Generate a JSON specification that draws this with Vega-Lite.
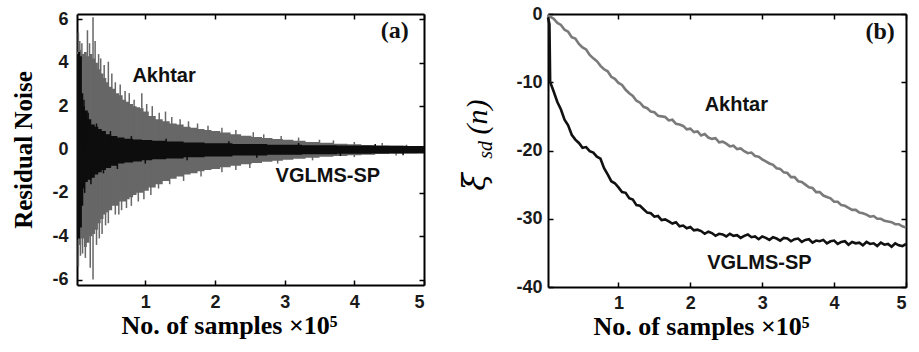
{
  "$schema": "https://vega.github.io/schema/vega-lite/v6.json",
  "background": "white",
  "padding": {"left": 11, "top": 5, "right": 5, "bottom": 5},
  "bounds": "flush",
  "spacing": 124,
  "config": {
    "view": {"stroke": null},
    "axis": {"grid": false, "domain": true, "domainColor": "#000", "domainWidth": 2, "tickColor": "#000", "tickSize": -5, "tickWidth": 1.5, "zindex": 1,
      "labelFont": "Liberation Sans", "labelFontWeight": "bold", "labelFontSize": 18, "labelColor": "#1a1a1a",
      "labelExpr": "datum.value < 0 ? '-' + abs(datum.value) : '' + datum.value",
      "titleFont": "Liberation Serif", "titleFontWeight": "bold", "titleFontSize": 26, "titleColor": "#000"}
  },
  "datasets": {
    "noise": [
      {"s":"Akhtar","x":0.02,"hi":4.5,"lo":-4.2},{"s":"Akhtar","x":0.06,"hi":4.6,"lo":-4.4},{"s":"Akhtar","x":0.10,"hi":4.4,"lo":-4.1},{"s":"Akhtar","x":0.14,"hi":4.5,"lo":-4.5},{"s":"Akhtar","x":0.18,"hi":4.3,"lo":-4.3},{"s":"Akhtar","x":0.22,"hi":4.4,"lo":-4.0},{"s":"Akhtar","x":0.26,"hi":4.2,"lo":-3.9},{"s":"Akhtar","x":0.30,"hi":4.0,"lo":-3.7},{"s":"Akhtar","x":0.34,"hi":3.7,"lo":-3.4},{"s":"Akhtar","x":0.38,"hi":3.5,"lo":-3.2},{"s":"Akhtar","x":0.42,"hi":3.3,"lo":-3.0},{"s":"Akhtar","x":0.46,"hi":3.1,"lo":-2.9},{"s":"Akhtar","x":0.50,"hi":2.9,"lo":-2.8},{"s":"Akhtar","x":0.55,"hi":2.8,"lo":-2.6},{"s":"Akhtar","x":0.60,"hi":2.6,"lo":-2.6},{"s":"Akhtar","x":0.65,"hi":2.5,"lo":-2.4},{"s":"Akhtar","x":0.70,"hi":2.3,"lo":-2.4},{"s":"Akhtar","x":0.75,"hi":2.2,"lo":-2.3},{"s":"Akhtar","x":0.80,"hi":2.1,"lo":-2.2},{"s":"Akhtar","x":0.85,"hi":2.0,"lo":-2.1},{"s":"Akhtar","x":0.90,"hi":1.95,"lo":-2.0},{"s":"Akhtar","x":0.95,"hi":1.9,"lo":-2.0},{"s":"Akhtar","x":1.00,"hi":1.75,"lo":-1.9},{"s":"Akhtar","x":1.10,"hi":1.55,"lo":-1.75},{"s":"Akhtar","x":1.20,"hi":1.4,"lo":-1.6},{"s":"Akhtar","x":1.30,"hi":1.3,"lo":-1.45},{"s":"Akhtar","x":1.40,"hi":1.2,"lo":-1.35},{"s":"Akhtar","x":1.50,"hi":1.15,"lo":-1.25},{"s":"Akhtar","x":1.60,"hi":1.05,"lo":-1.15},{"s":"Akhtar","x":1.70,"hi":1.0,"lo":-1.1},{"s":"Akhtar","x":1.80,"hi":0.95,"lo":-1.0},{"s":"Akhtar","x":1.90,"hi":0.9,"lo":-0.95},{"s":"Akhtar","x":2.00,"hi":0.85,"lo":-0.9},{"s":"Akhtar","x":2.15,"hi":0.78,"lo":-0.82},{"s":"Akhtar","x":2.30,"hi":0.7,"lo":-0.75},{"s":"Akhtar","x":2.45,"hi":0.64,"lo":-0.68},{"s":"Akhtar","x":2.60,"hi":0.58,"lo":-0.62},{"s":"Akhtar","x":2.75,"hi":0.53,"lo":-0.57},{"s":"Akhtar","x":2.90,"hi":0.48,"lo":-0.52},{"s":"Akhtar","x":3.05,"hi":0.45,"lo":-0.47},{"s":"Akhtar","x":3.20,"hi":0.4,"lo":-0.43},{"s":"Akhtar","x":3.40,"hi":0.35,"lo":-0.38},{"s":"Akhtar","x":3.60,"hi":0.31,"lo":-0.34},{"s":"Akhtar","x":3.80,"hi":0.27,"lo":-0.3},{"s":"Akhtar","x":4.00,"hi":0.24,"lo":-0.27},{"s":"Akhtar","x":4.20,"hi":0.21,"lo":-0.24},{"s":"Akhtar","x":4.40,"hi":0.19,"lo":-0.21},{"s":"Akhtar","x":4.60,"hi":0.17,"lo":-0.19},{"s":"Akhtar","x":4.80,"hi":0.16,"lo":-0.17},{"s":"Akhtar","x":5.00,"hi":0.15,"lo":-0.16},
      {"s":"VGLMS-SP","x":0.02,"hi":4.4,"lo":-4.2},{"s":"VGLMS-SP","x":0.05,"hi":4.5,"lo":-4.1},{"s":"VGLMS-SP","x":0.08,"hi":4.3,"lo":-3.6},{"s":"VGLMS-SP","x":0.10,"hi":2.6,"lo":-2.6},{"s":"VGLMS-SP","x":0.12,"hi":2.0,"lo":-1.8},{"s":"VGLMS-SP","x":0.15,"hi":1.8,"lo":-1.5},{"s":"VGLMS-SP","x":0.20,"hi":1.4,"lo":-1.4},{"s":"VGLMS-SP","x":0.25,"hi":1.15,"lo":-1.3},{"s":"VGLMS-SP","x":0.30,"hi":1.05,"lo":-1.15},{"s":"VGLMS-SP","x":0.35,"hi":0.95,"lo":-1.05},{"s":"VGLMS-SP","x":0.40,"hi":0.85,"lo":-0.95},{"s":"VGLMS-SP","x":0.47,"hi":0.7,"lo":-0.85},{"s":"VGLMS-SP","x":0.55,"hi":0.62,"lo":-0.75},{"s":"VGLMS-SP","x":0.65,"hi":0.55,"lo":-0.65},{"s":"VGLMS-SP","x":0.75,"hi":0.5,"lo":-0.6},{"s":"VGLMS-SP","x":0.90,"hi":0.46,"lo":-0.55},{"s":"VGLMS-SP","x":1.00,"hi":0.44,"lo":-0.5},{"s":"VGLMS-SP","x":1.20,"hi":0.4,"lo":-0.45},{"s":"VGLMS-SP","x":1.40,"hi":0.37,"lo":-0.42},{"s":"VGLMS-SP","x":1.70,"hi":0.32,"lo":-0.36},{"s":"VGLMS-SP","x":2.00,"hi":0.29,"lo":-0.32},{"s":"VGLMS-SP","x":2.50,"hi":0.25,"lo":-0.28},{"s":"VGLMS-SP","x":3.00,"hi":0.22,"lo":-0.24},{"s":"VGLMS-SP","x":3.50,"hi":0.2,"lo":-0.22},{"s":"VGLMS-SP","x":4.00,"hi":0.18,"lo":-0.2},{"s":"VGLMS-SP","x":4.50,"hi":0.17,"lo":-0.19},{"s":"VGLMS-SP","x":5.00,"hi":0.16,"lo":-0.18}
    ],
    "spikes": [
      {"s":"Akhtar","x":0.04,"y":5.4},{"s":"Akhtar","x":0.06,"y":5.0},{"s":"Akhtar","x":0.09,"y":4.9},{"s":"Akhtar","x":0.17,"y":5.5},{"s":"Akhtar","x":0.2,"y":4.9},{"s":"Akhtar","x":0.25,"y":6.1},{"s":"Akhtar","x":0.28,"y":5.0},{"s":"Akhtar","x":0.33,"y":4.4},{"s":"Akhtar","x":0.36,"y":4.2},{"s":"Akhtar","x":0.41,"y":3.9},{"s":"Akhtar","x":0.47,"y":4.05},{"s":"Akhtar","x":0.52,"y":3.5},{"s":"Akhtar","x":0.57,"y":3.1},{"s":"Akhtar","x":0.64,"y":3.0},{"s":"Akhtar","x":0.71,"y":2.7},{"s":"Akhtar","x":0.77,"y":2.6},{"s":"Akhtar","x":0.84,"y":2.3},{"s":"Akhtar","x":0.95,"y":2.6},{"s":"Akhtar","x":1.02,"y":2.1},{"s":"Akhtar","x":1.1,"y":2.0},{"s":"Akhtar","x":1.2,"y":1.7},{"s":"Akhtar","x":1.29,"y":1.75},{"s":"Akhtar","x":1.38,"y":1.5},{"s":"Akhtar","x":1.5,"y":1.4},{"s":"Akhtar","x":1.62,"y":1.3},{"s":"Akhtar","x":1.75,"y":1.2},{"s":"Akhtar","x":1.9,"y":1.1},{"s":"Akhtar","x":2.1,"y":1.0},{"s":"Akhtar","x":2.3,"y":0.9},{"s":"Akhtar","x":2.55,"y":0.8},{"s":"Akhtar","x":2.7,"y":0.7},{"s":"Akhtar","x":2.95,"y":0.62},{"s":"Akhtar","x":3.2,"y":0.55},{"s":"Akhtar","x":3.5,"y":0.45},{"s":"Akhtar","x":3.7,"y":0.42},{"s":"Akhtar","x":4.0,"y":0.35},{"s":"Akhtar","x":4.4,"y":0.3},{"s":"Akhtar","x":4.75,"y":0.22},
      {"s":"Akhtar","x":0.04,"y":-5.4},{"s":"Akhtar","x":0.07,"y":-4.9},{"s":"Akhtar","x":0.1,"y":-4.8},{"s":"Akhtar","x":0.14,"y":-5.0},{"s":"Akhtar","x":0.21,"y":-5.45},{"s":"Akhtar","x":0.25,"y":-6.0},{"s":"Akhtar","x":0.3,"y":-4.4},{"s":"Akhtar","x":0.34,"y":-4.1},{"s":"Akhtar","x":0.38,"y":-3.9},{"s":"Akhtar","x":0.43,"y":-3.5},{"s":"Akhtar","x":0.47,"y":-3.4},{"s":"Akhtar","x":0.57,"y":-3.0},{"s":"Akhtar","x":0.62,"y":-3.0},{"s":"Akhtar","x":0.66,"y":-2.8},{"s":"Akhtar","x":0.73,"y":-2.7},{"s":"Akhtar","x":0.8,"y":-2.6},{"s":"Akhtar","x":0.9,"y":-2.4},{"s":"Akhtar","x":0.98,"y":-2.3},{"s":"Akhtar","x":1.08,"y":-2.1},{"s":"Akhtar","x":1.19,"y":-1.8},{"s":"Akhtar","x":1.35,"y":-1.6},{"s":"Akhtar","x":1.55,"y":-1.45},{"s":"Akhtar","x":1.8,"y":-1.25},{"s":"Akhtar","x":2.1,"y":-1.05},{"s":"Akhtar","x":2.3,"y":-0.95},{"s":"Akhtar","x":2.5,"y":-0.85},{"s":"Akhtar","x":2.9,"y":-0.65},{"s":"Akhtar","x":3.4,"y":-0.5},{"s":"Akhtar","x":4.0,"y":-0.35},{"s":"Akhtar","x":4.6,"y":-0.28},
      {"s":"VGLMS-SP","x":0.12,"y":2.3},{"s":"VGLMS-SP","x":0.18,"y":1.7},{"s":"VGLMS-SP","x":0.3,"y":1.2},{"s":"VGLMS-SP","x":0.5,"y":0.85},{"s":"VGLMS-SP","x":0.8,"y":0.62},{"s":"VGLMS-SP","x":1.3,"y":0.5},{"s":"VGLMS-SP","x":2.2,"y":0.38},{"s":"VGLMS-SP","x":3.2,"y":0.3},{"s":"VGLMS-SP","x":4.3,"y":0.25},
      {"s":"VGLMS-SP","x":0.13,"y":-2.0},{"s":"VGLMS-SP","x":0.22,"y":-1.6},{"s":"VGLMS-SP","x":0.4,"y":-1.1},{"s":"VGLMS-SP","x":0.6,"y":-0.9},{"s":"VGLMS-SP","x":1.0,"y":-0.65},{"s":"VGLMS-SP","x":1.6,"y":-0.5},{"s":"VGLMS-SP","x":2.6,"y":-0.38},{"s":"VGLMS-SP","x":3.8,"y":-0.3},{"s":"VGLMS-SP","x":4.7,"y":-0.26}
    ],
    "xi": [
      {"s":"Akhtar","x":0.02,"y":-0.2},{"s":"Akhtar","x":0.05,"y":-0.4},{"s":"Akhtar","x":0.10,"y":-0.7},{"s":"Akhtar","x":0.15,"y":-1.3},{"s":"Akhtar","x":0.20,"y":-1.6},{"s":"Akhtar","x":0.25,"y":-2.3},{"s":"Akhtar","x":0.30,"y":-2.6},{"s":"Akhtar","x":0.35,"y":-3.4},{"s":"Akhtar","x":0.40,"y":-3.6},{"s":"Akhtar","x":0.45,"y":-4.4},{"s":"Akhtar","x":0.50,"y":-4.9},{"s":"Akhtar","x":0.55,"y":-5.2},{"s":"Akhtar","x":0.60,"y":-6.0},{"s":"Akhtar","x":0.65,"y":-6.5},{"s":"Akhtar","x":0.70,"y":-6.9},{"s":"Akhtar","x":0.75,"y":-7.6},{"s":"Akhtar","x":0.80,"y":-8.1},{"s":"Akhtar","x":0.85,"y":-8.4},{"s":"Akhtar","x":0.90,"y":-9.2},{"s":"Akhtar","x":0.95,"y":-9.5},{"s":"Akhtar","x":1.00,"y":-10.1},{"s":"Akhtar","x":1.05,"y":-10.4},{"s":"Akhtar","x":1.10,"y":-11.1},{"s":"Akhtar","x":1.15,"y":-11.6},{"s":"Akhtar","x":1.20,"y":-12.0},{"s":"Akhtar","x":1.25,"y":-12.7},{"s":"Akhtar","x":1.30,"y":-13.0},{"s":"Akhtar","x":1.35,"y":-13.6},{"s":"Akhtar","x":1.40,"y":-13.8},{"s":"Akhtar","x":1.45,"y":-14.3},{"s":"Akhtar","x":1.50,"y":-14.4},{"s":"Akhtar","x":1.55,"y":-14.9},{"s":"Akhtar","x":1.60,"y":-15.0},{"s":"Akhtar","x":1.65,"y":-15.1},{"s":"Akhtar","x":1.70,"y":-15.6},{"s":"Akhtar","x":1.75,"y":-15.5},{"s":"Akhtar","x":1.80,"y":-16.1},{"s":"Akhtar","x":1.85,"y":-16.2},{"s":"Akhtar","x":1.90,"y":-16.4},{"s":"Akhtar","x":1.95,"y":-16.9},{"s":"Akhtar","x":2.00,"y":-16.8},{"s":"Akhtar","x":2.05,"y":-17.3},{"s":"Akhtar","x":2.10,"y":-17.2},{"s":"Akhtar","x":2.15,"y":-17.8},{"s":"Akhtar","x":2.20,"y":-17.6},{"s":"Akhtar","x":2.25,"y":-18.1},{"s":"Akhtar","x":2.30,"y":-18.3},{"s":"Akhtar","x":2.35,"y":-18.2},{"s":"Akhtar","x":2.40,"y":-18.8},{"s":"Akhtar","x":2.45,"y":-18.7},{"s":"Akhtar","x":2.50,"y":-19.0},{"s":"Akhtar","x":2.55,"y":-19.4},{"s":"Akhtar","x":2.60,"y":-19.3},{"s":"Akhtar","x":2.65,"y":-19.8},{"s":"Akhtar","x":2.70,"y":-19.7},{"s":"Akhtar","x":2.75,"y":-20.1},{"s":"Akhtar","x":2.80,"y":-20.4},{"s":"Akhtar","x":2.85,"y":-20.3},{"s":"Akhtar","x":2.90,"y":-20.8},{"s":"Akhtar","x":2.95,"y":-20.9},{"s":"Akhtar","x":3.00,"y":-21.3},{"s":"Akhtar","x":3.05,"y":-21.6},{"s":"Akhtar","x":3.10,"y":-21.9},{"s":"Akhtar","x":3.15,"y":-22.1},{"s":"Akhtar","x":3.20,"y":-22.6},{"s":"Akhtar","x":3.25,"y":-22.7},{"s":"Akhtar","x":3.30,"y":-23.2},{"s":"Akhtar","x":3.35,"y":-23.3},{"s":"Akhtar","x":3.40,"y":-23.9},{"s":"Akhtar","x":3.45,"y":-23.9},{"s":"Akhtar","x":3.50,"y":-24.5},{"s":"Akhtar","x":3.55,"y":-24.6},{"s":"Akhtar","x":3.60,"y":-25.0},{"s":"Akhtar","x":3.65,"y":-25.4},{"s":"Akhtar","x":3.70,"y":-25.5},{"s":"Akhtar","x":3.75,"y":-26.1},{"s":"Akhtar","x":3.80,"y":-26.1},{"s":"Akhtar","x":3.85,"y":-26.6},{"s":"Akhtar","x":3.90,"y":-26.8},{"s":"Akhtar","x":3.95,"y":-27.0},{"s":"Akhtar","x":4.00,"y":-27.5},{"s":"Akhtar","x":4.05,"y":-27.5},{"s":"Akhtar","x":4.10,"y":-28.0},{"s":"Akhtar","x":4.15,"y":-28.1},{"s":"Akhtar","x":4.20,"y":-28.4},{"s":"Akhtar","x":4.25,"y":-28.7},{"s":"Akhtar","x":4.30,"y":-28.7},{"s":"Akhtar","x":4.35,"y":-29.1},{"s":"Akhtar","x":4.40,"y":-29.2},{"s":"Akhtar","x":4.45,"y":-29.4},{"s":"Akhtar","x":4.50,"y":-29.7},{"s":"Akhtar","x":4.55,"y":-29.6},{"s":"Akhtar","x":4.60,"y":-30.0},{"s":"Akhtar","x":4.65,"y":-30.0},{"s":"Akhtar","x":4.70,"y":-30.3},{"s":"Akhtar","x":4.75,"y":-30.4},{"s":"Akhtar","x":4.80,"y":-30.5},{"s":"Akhtar","x":4.85,"y":-30.8},{"s":"Akhtar","x":4.90,"y":-30.8},{"s":"Akhtar","x":4.95,"y":-31.1},{"s":"Akhtar","x":5.00,"y":-31.3},
      {"s":"VGLMS-SP","x":0.02,"y":-0.5},{"s":"VGLMS-SP","x":0.04,"y":-1.5},{"s":"VGLMS-SP","x":0.05,"y":-10.0},{"s":"VGLMS-SP","x":0.08,"y":-10.8},{"s":"VGLMS-SP","x":0.10,"y":-11.4},{"s":"VGLMS-SP","x":0.15,"y":-12.9},{"s":"VGLMS-SP","x":0.20,"y":-14.0},{"s":"VGLMS-SP","x":0.25,"y":-15.5},{"s":"VGLMS-SP","x":0.30,"y":-16.3},{"s":"VGLMS-SP","x":0.35,"y":-17.7},{"s":"VGLMS-SP","x":0.40,"y":-18.4},{"s":"VGLMS-SP","x":0.45,"y":-18.9},{"s":"VGLMS-SP","x":0.50,"y":-19.6},{"s":"VGLMS-SP","x":0.55,"y":-19.5},{"s":"VGLMS-SP","x":0.60,"y":-20.1},{"s":"VGLMS-SP","x":0.65,"y":-20.3},{"s":"VGLMS-SP","x":0.70,"y":-20.9},{"s":"VGLMS-SP","x":0.75,"y":-21.2},{"s":"VGLMS-SP","x":0.80,"y":-22.6},{"s":"VGLMS-SP","x":0.85,"y":-23.5},{"s":"VGLMS-SP","x":0.90,"y":-24.5},{"s":"VGLMS-SP","x":0.95,"y":-24.8},{"s":"VGLMS-SP","x":1.00,"y":-25.4},{"s":"VGLMS-SP","x":1.05,"y":-26.1},{"s":"VGLMS-SP","x":1.10,"y":-26.2},{"s":"VGLMS-SP","x":1.15,"y":-27.0},{"s":"VGLMS-SP","x":1.20,"y":-27.2},{"s":"VGLMS-SP","x":1.25,"y":-28.0},{"s":"VGLMS-SP","x":1.30,"y":-28.1},{"s":"VGLMS-SP","x":1.35,"y":-28.6},{"s":"VGLMS-SP","x":1.40,"y":-29.1},{"s":"VGLMS-SP","x":1.45,"y":-29.2},{"s":"VGLMS-SP","x":1.50,"y":-29.7},{"s":"VGLMS-SP","x":1.55,"y":-29.6},{"s":"VGLMS-SP","x":1.60,"y":-30.2},{"s":"VGLMS-SP","x":1.65,"y":-30.1},{"s":"VGLMS-SP","x":1.70,"y":-30.4},{"s":"VGLMS-SP","x":1.75,"y":-30.7},{"s":"VGLMS-SP","x":1.80,"y":-30.5},{"s":"VGLMS-SP","x":1.85,"y":-31.1},{"s":"VGLMS-SP","x":1.90,"y":-31.0},{"s":"VGLMS-SP","x":1.95,"y":-31.4},{"s":"VGLMS-SP","x":2.00,"y":-31.2},{"s":"VGLMS-SP","x":2.05,"y":-31.7},{"s":"VGLMS-SP","x":2.10,"y":-31.6},{"s":"VGLMS-SP","x":2.15,"y":-31.8},{"s":"VGLMS-SP","x":2.20,"y":-32.2},{"s":"VGLMS-SP","x":2.25,"y":-31.9},{"s":"VGLMS-SP","x":2.30,"y":-32.1},{"s":"VGLMS-SP","x":2.35,"y":-32.5},{"s":"VGLMS-SP","x":2.40,"y":-32.2},{"s":"VGLMS-SP","x":2.45,"y":-32.3},{"s":"VGLMS-SP","x":2.50,"y":-32.6},{"s":"VGLMS-SP","x":2.55,"y":-32.2},{"s":"VGLMS-SP","x":2.60,"y":-32.5},{"s":"VGLMS-SP","x":2.65,"y":-32.4},{"s":"VGLMS-SP","x":2.70,"y":-32.8},{"s":"VGLMS-SP","x":2.75,"y":-32.5},{"s":"VGLMS-SP","x":2.80,"y":-32.3},{"s":"VGLMS-SP","x":2.85,"y":-32.7},{"s":"VGLMS-SP","x":2.90,"y":-32.6},{"s":"VGLMS-SP","x":2.95,"y":-33.0},{"s":"VGLMS-SP","x":3.00,"y":-32.6},{"s":"VGLMS-SP","x":3.05,"y":-32.8},{"s":"VGLMS-SP","x":3.10,"y":-33.1},{"s":"VGLMS-SP","x":3.15,"y":-32.7},{"s":"VGLMS-SP","x":3.20,"y":-32.9},{"s":"VGLMS-SP","x":3.25,"y":-33.2},{"s":"VGLMS-SP","x":3.30,"y":-32.8},{"s":"VGLMS-SP","x":3.35,"y":-32.9},{"s":"VGLMS-SP","x":3.40,"y":-33.3},{"s":"VGLMS-SP","x":3.45,"y":-33.0},{"s":"VGLMS-SP","x":3.50,"y":-32.9},{"s":"VGLMS-SP","x":3.55,"y":-33.4},{"s":"VGLMS-SP","x":3.60,"y":-33.1},{"s":"VGLMS-SP","x":3.65,"y":-33.0},{"s":"VGLMS-SP","x":3.70,"y":-33.5},{"s":"VGLMS-SP","x":3.75,"y":-33.2},{"s":"VGLMS-SP","x":3.80,"y":-33.3},{"s":"VGLMS-SP","x":3.85,"y":-33.1},{"s":"VGLMS-SP","x":3.90,"y":-33.6},{"s":"VGLMS-SP","x":3.95,"y":-33.3},{"s":"VGLMS-SP","x":4.00,"y":-33.2},{"s":"VGLMS-SP","x":4.05,"y":-33.7},{"s":"VGLMS-SP","x":4.10,"y":-33.4},{"s":"VGLMS-SP","x":4.15,"y":-33.3},{"s":"VGLMS-SP","x":4.20,"y":-33.8},{"s":"VGLMS-SP","x":4.25,"y":-33.4},{"s":"VGLMS-SP","x":4.30,"y":-33.6},{"s":"VGLMS-SP","x":4.35,"y":-33.5},{"s":"VGLMS-SP","x":4.40,"y":-33.9},{"s":"VGLMS-SP","x":4.45,"y":-33.4},{"s":"VGLMS-SP","x":4.50,"y":-33.7},{"s":"VGLMS-SP","x":4.55,"y":-33.6},{"s":"VGLMS-SP","x":4.60,"y":-34.0},{"s":"VGLMS-SP","x":4.65,"y":-33.5},{"s":"VGLMS-SP","x":4.70,"y":-33.8},{"s":"VGLMS-SP","x":4.75,"y":-33.7},{"s":"VGLMS-SP","x":4.80,"y":-34.1},{"s":"VGLMS-SP","x":4.85,"y":-33.6},{"s":"VGLMS-SP","x":4.90,"y":-33.9},{"s":"VGLMS-SP","x":4.95,"y":-34.0},{"s":"VGLMS-SP","x":5.00,"y":-33.7}
    ],
    "one": [{}]
  },
  "hconcat": [
    {
      "width": 347,
      "height": 271,
      "layer": [
        {
          "data": {"name": "noise"},
          "transform": [{"filter": "datum.s === 'Akhtar'"}],
          "mark": {"type": "area", "interpolate": "step", "color": "#676767"},
          "encoding": {
            "x": {"field": "x", "type": "quantitative", "scale": {"domain": [0.02, 5], "nice": false, "zero": false},
              "axis": {"orient": "bottom", "values": [1, 2, 3, 4, 5], "title": "No. of samples ×10⁵", "labelPadding": 13, "titleX": 152, "titleY": 48, "titleBaseline": "alphabetic", "titleAlign": "center"}},
            "y": {"field": "hi", "type": "quantitative", "scale": {"domain": [-6.25, 6.25], "nice": false},
              "axis": {"orient": "left", "values": [-6, -4, -2, 0, 2, 4, 6], "title": "Residual Noise", "titleFontSize": 25, "labelPadding": 14, "titlePadding": 15}},
            "y2": {"field": "lo"}
          }
        },
        {
          "data": {"name": "spikes"},
          "transform": [{"filter": "datum.s === 'Akhtar'"}],
          "mark": {"type": "rule", "color": "#676767", "strokeWidth": 1.5},
          "encoding": {
            "x": {"field": "x", "type": "quantitative", "axis": null},
            "y": {"field": "y", "type": "quantitative", "axis": null},
            "y2": {"datum": 0}
          }
        },
        {
          "data": {"name": "noise"},
          "transform": [{"filter": "datum.s === 'VGLMS-SP'"}],
          "mark": {"type": "area", "interpolate": "step", "color": "#0d0d0d"},
          "encoding": {
            "x": {"field": "x", "type": "quantitative",
              "axis": {"orient": "top", "values": [1, 2, 3, 4, 5], "labels": false, "title": null}},
            "y": {"field": "hi", "type": "quantitative",
              "axis": {"orient": "right", "values": [-6, -4, -2, 0, 2, 4, 6], "labels": false, "title": null}},
            "y2": {"field": "lo"}
          }
        },
        {
          "data": {"name": "spikes"},
          "transform": [{"filter": "datum.s === 'VGLMS-SP'"}],
          "mark": {"type": "rule", "color": "#0d0d0d", "strokeWidth": 1.5},
          "encoding": {
            "x": {"field": "x", "type": "quantitative", "axis": null},
            "y": {"field": "y", "type": "quantitative", "axis": null},
            "y2": {"datum": 0}
          }
        },
        {
          "data": {"name": "one"},
          "mark": {"type": "text", "font": "Liberation Sans", "fontWeight": "bold", "fontSize": 20, "color": "#111"},
          "encoding": {"x": {"datum": 1.27, "type": "quantitative", "axis": null}, "y": {"datum": 3.4, "type": "quantitative", "axis": null}, "text": {"value": "Akhtar"}}
        },
        {
          "data": {"name": "one"},
          "mark": {"type": "text", "font": "Liberation Sans", "fontWeight": "bold", "fontSize": 20, "color": "#111"},
          "encoding": {"x": {"datum": 3.62, "type": "quantitative", "axis": null}, "y": {"datum": -1.2, "type": "quantitative", "axis": null}, "text": {"value": "VGLMS-SP"}}
        },
        {
          "data": {"name": "one"},
          "mark": {"type": "text", "font": "Liberation Serif", "fontWeight": "bold", "fontSize": 24, "color": "#111"},
          "encoding": {"x": {"datum": 4.58, "type": "quantitative", "axis": null}, "y": {"datum": 5.45, "type": "quantitative", "axis": null}, "text": {"value": "(a)"}}
        }
      ]
    },
    {
      "width": 358,
      "height": 273,
      "layer": [
        {
          "data": {"name": "xi"},
          "transform": [{"filter": "datum.s === 'Akhtar'"}],
          "mark": {"type": "line", "color": "#7a7a7a", "strokeWidth": 2.6},
          "encoding": {
            "x": {"field": "x", "type": "quantitative", "scale": {"domain": [0.02, 5], "nice": false, "zero": false},
              "axis": {"orient": "bottom", "values": [1, 2, 3, 4, 5], "title": "No. of samples ×10⁵", "labelPadding": 12, "titleX": 153, "titleY": 47, "titleBaseline": "alphabetic", "titleAlign": "center"}},
            "y": {"field": "y", "type": "quantitative", "scale": {"domain": [-40, 0], "nice": false},
              "axis": {"orient": "left", "values": [-40, -30, -20, -10, 0], "title": null, "labelPadding": 11}}
          }
        },
        {
          "data": {"name": "xi"},
          "transform": [{"filter": "datum.s === 'VGLMS-SP'"}],
          "mark": {"type": "line", "color": "#111111", "strokeWidth": 2.6},
          "encoding": {
            "x": {"field": "x", "type": "quantitative",
              "axis": {"orient": "top", "values": [1, 2, 3, 4, 5], "labels": false, "title": null}},
            "y": {"field": "y", "type": "quantitative",
              "axis": {"orient": "right", "values": [-40, -30, -20, -10, 0], "labels": false, "title": null}}
          }
        },
        {
          "data": {"name": "one"},
          "mark": {"type": "text", "font": "Liberation Sans", "fontWeight": "bold", "fontSize": 20, "color": "#111"},
          "encoding": {"x": {"datum": 2.64, "type": "quantitative", "axis": null}, "y": {"datum": -13.3, "type": "quantitative", "axis": null}, "text": {"value": "Akhtar"}}
        },
        {
          "data": {"name": "one"},
          "mark": {"type": "text", "font": "Liberation Sans", "fontWeight": "bold", "fontSize": 20, "color": "#111"},
          "encoding": {"x": {"datum": 2.96, "type": "quantitative", "axis": null}, "y": {"datum": -36.5, "type": "quantitative", "axis": null}, "text": {"value": "VGLMS-SP"}}
        },
        {
          "data": {"name": "one"},
          "mark": {"type": "text", "font": "Liberation Serif", "fontWeight": "bold", "fontSize": 24, "color": "#111"},
          "encoding": {"x": {"datum": 4.64, "type": "quantitative", "axis": null}, "y": {"datum": -2.6, "type": "quantitative", "axis": null}, "text": {"value": "(b)"}}
        },
        {
          "data": {"name": "one"},
          "mark": {"type": "text", "font": "DejaVu Serif", "fontStyle": "italic", "fontSize": 32, "angle": 270, "baseline": "alphabetic", "align": "center", "color": "#000"},
          "encoding": {"x": {"datum": -0.85, "type": "quantitative", "axis": null}, "y": {"datum": -24.6, "type": "quantitative", "axis": null}, "text": {"value": "ξ"}}
        },
        {
          "data": {"name": "one"},
          "mark": {"type": "text", "font": "Liberation Serif", "fontStyle": "italic", "fontSize": 20, "angle": 270, "baseline": "alphabetic", "align": "center", "color": "#000"},
          "encoding": {"x": {"datum": -0.76, "type": "quantitative", "axis": null}, "y": {"datum": -19.9, "type": "quantitative", "axis": null}, "text": {"value": "sd"}}
        },
        {
          "data": {"name": "one"},
          "mark": {"type": "text", "font": "Liberation Serif", "fontStyle": "italic", "fontSize": 30, "angle": 270, "baseline": "alphabetic", "align": "center", "color": "#000"},
          "encoding": {"x": {"datum": -0.83, "type": "quantitative", "axis": null}, "y": {"datum": -15.1, "type": "quantitative", "axis": null}, "text": {"value": "(n)"}}
        }
      ]
    }
  ]
}
